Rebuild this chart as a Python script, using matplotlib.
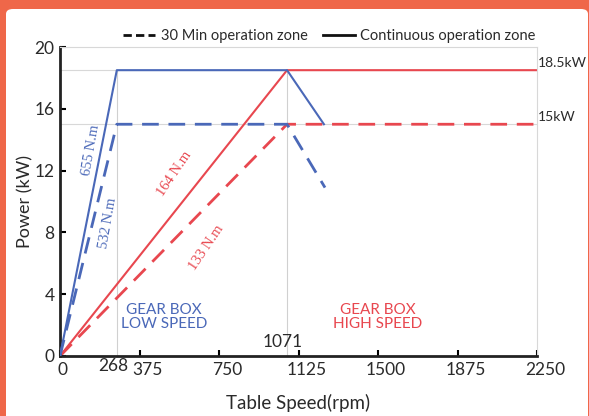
import matplotlib
matplotlib.use('Agg')
import matplotlib.pyplot as plt
from matplotlib.patches import FancyBboxPatch
from matplotlib.lines import Line2D
from matplotlib.transforms import offset_copy

plt.rcParams['font.family'] = ['Lato', 'DejaVu Sans']

# gear box low speed (blue)
low_cont_x = [0, 268, 1071, 1245]
low_cont_y = [0, 18.5, 18.5, 15]
low_30_x = [0, 268, 1071, 1250]
low_30_y = [0, 15, 15, 10.9]
# gear box high speed (red)
high_cont_x = [0, 1071, 2250]
high_cont_y = [0, 18.5, 18.5]
high_30_x = [0, 1071, 2250]
high_30_y = [0, 15, 15]

xticks = [0, 375, 750, 1125, 1500, 1875, 2250]
yticks = [0, 4, 8, 12, 16, 20]
blue, red, txt = '#4a68b8', '#e8474f', '#2a2a2a'

fig = plt.figure(figsize=(5.89, 4.16), dpi=100, facecolor='#ef6749')
fig.patches.append(FancyBboxPatch((6/589, -0.05), 582/589, 1 - 9/416 + 0.05,
                                  boxstyle='round,pad=0,rounding_size=0.012',
                                  transform=fig.transFigure, fc='white', ec='none', zorder=-5))
ax = fig.add_axes([60/589, 1-356/416, 477/589, 309/416])
ax.set_zorder(2)
ax.set_facecolor('none')

# reference lines
for yv in (18.5, 15):
    ax.plot([0, 2250], [yv, yv], color='#d8d8d8', lw=0.8, zorder=1)
for xv in (268, 1071):
    ax.plot([xv, xv], [0, 18.5], color='#d0d0d0', lw=0.8, zorder=1)

ax.plot(low_cont_x, low_cont_y, color=blue, lw=1.5, zorder=3)
ax.plot(low_30_x, low_30_y, color=blue, lw=2, ls=(0, (6, 3.5)), zorder=3)
ax.plot(high_cont_x, high_cont_y, color=red, lw=1.5, zorder=2)
ax.plot(high_30_x, high_30_y, color=red, lw=2, ls=(0, (6, 3.5)), zorder=2)

ax.set_xlim(0, 2250); ax.set_ylim(0, 20)
ax.set_xticks(xticks); ax.set_yticks(yticks)
ax.set_xticklabels([])
ax.tick_params(direction='in', length=4, width=1.5, labelsize=12.5, labelcolor=txt, pad=5)
ax.tick_params(axis='y', pad=4)
# x tick labels sit slightly right of their ticks in the original
xform = ax.get_xaxis_transform()
for v in xticks:
    dx = 2 if v == 0 else 8
    ax.text(v, 0, str(v), transform=offset_copy(xform, fig, x=dx, y=-6, units='dots'),
            ha='center', va='top', fontsize=12.5, color=txt, clip_on=False)
ax.text(252, 0, '268', transform=offset_copy(xform, fig, x=0, y=-2, units='dots'),
        ha='center', va='top', fontsize=12.5, color=txt, clip_on=False)

for s in ('left', 'bottom'):
    ax.spines[s].set_linewidth(2); ax.spines[s].set_color('#222')
for s in ('top', 'right'):
    ax.spines[s].set_linewidth(0.8); ax.spines[s].set_color('#d8d8d8')

ax.set_xlabel('Table Speed(rpm)', fontsize=13.5, color=txt, labelpad=22)
ax.set_ylabel('Power (kW)', fontsize=13, color=txt, labelpad=1)

ax.text(1050, 0.9, '1071', ha='center', va='center', fontsize=12.5, color=txt)
ax.text(2256, 18.6, '18.5kW', ha='left', va='bottom', fontsize=10, color=txt, clip_on=False)
ax.text(2256, 15.1, '15kW', ha='left', va='bottom', fontsize=10, color=txt, clip_on=False)

ax.text(490, 2.5, 'GEAR BOX\nLOW SPEED', ha='center', va='center', fontsize=11,
        color=blue, linespacing=1.0)
ax.text(1500, 2.5, 'GEAR BOX\nHIGH SPEED', ha='center', va='center', fontsize=11,
        color=red, linespacing=1.0)

tfont = dict(family='Liberation Serif', fontsize=10.5, ha='center', va='center')
ax.text(148, 13.3, '655 N.m', rotation=80, color=blue, **tfont)
ax.text(228, 8.6, '532 N.m', rotation=80, color=blue, **tfont)
ax.text(540, 11.8, '164 N.m', rotation=56, color=red, **tfont)
ax.text(690, 7.0, '133 N.m', rotation=56, color=red, **tfont)

handles = [Line2D([], [], color='#111', lw=2, ls=(0, (3, 1.5))),
           Line2D([], [], color='#111', lw=2)]
ax.legend(handles, ['30 Min operation zone', 'Continuous operation zone'], ncol=2,
          loc='lower center', bbox_to_anchor=(0.565, 0.99), frameon=False, fontsize=10.5,
          handlelength=2.2, handletextpad=0.4, columnspacing=1.0, borderaxespad=0.1,
          labelcolor=txt)

fig.savefig('out.png', dpi=100, facecolor=fig.get_facecolor())
